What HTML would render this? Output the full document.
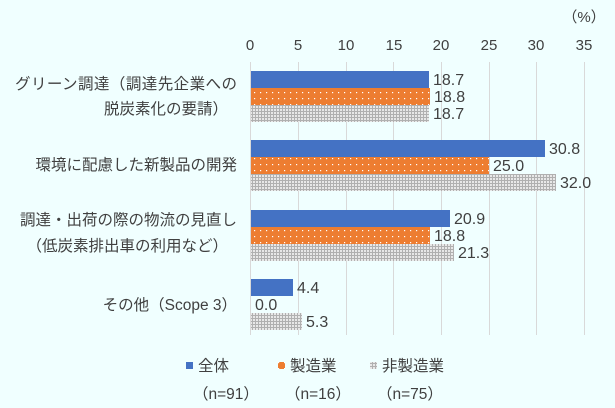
<html><head><style>body{margin:0;background:#f0ffff}</style></head><body>
<svg width="615" height="408" xmlns="http://www.w3.org/2000/svg" font-family="Liberation Sans, Noto Sans CJK JP, sans-serif">
<defs>
<pattern id="dot" width="6" height="6" patternUnits="userSpaceOnUse"><rect width="6" height="6" fill="#ed7d31"/><rect x="2" y="2" width="1.2" height="1.2" fill="#fff"/></pattern>
<pattern id="grid" width="3" height="3" patternUnits="userSpaceOnUse"><rect width="3" height="3" fill="#b0b0b0"/><rect x="1" y="1" width="2" height="2" fill="#e8e8e8"/></pattern>
</defs>
<rect width="615" height="408" fill="#f0ffff"/>
<g stroke="#d9d9d9" stroke-width="1">
<line x1="250.5" y1="62" x2="250.5" y2="335"/><line x1="298.5" y1="62" x2="298.5" y2="335"/><line x1="346.5" y1="62" x2="346.5" y2="335"/><line x1="393.5" y1="62" x2="393.5" y2="335"/><line x1="441.5" y1="62" x2="441.5" y2="335"/><line x1="489.5" y1="62" x2="489.5" y2="335"/><line x1="536.5" y1="62" x2="536.5" y2="335"/><line x1="584.5" y1="62" x2="584.5" y2="335"/>
</g>
<g font-size="15" fill="#404040" text-anchor="middle">
<text x="250" y="50">0</text><text x="298" y="50">5</text><text x="346" y="50">10</text><text x="394" y="50">15</text><text x="441" y="50">20</text><text x="489" y="50">25</text><text x="536" y="50">30</text><text x="584" y="50">35</text>
<text x="584" y="22">（%）</text>
</g>
<g>
<rect x="251" y="71" width="178" height="17" fill="#4472c4"/><rect x="251" y="88" width="179" height="17" fill="url(#dot)"/><rect x="251" y="105" width="178" height="17" fill="url(#grid)"/>
<rect x="251" y="140" width="294" height="17" fill="#4472c4"/><rect x="251" y="157" width="238" height="17" fill="url(#dot)"/><rect x="251" y="174" width="305" height="17" fill="url(#grid)"/>
<rect x="251" y="210" width="199" height="17" fill="#4472c4"/><rect x="251" y="227" width="179" height="17" fill="url(#dot)"/><rect x="251" y="244" width="203" height="17" fill="url(#grid)"/>
<rect x="251" y="279" width="42" height="17" fill="#4472c4"/><rect x="251" y="313" width="51" height="17" fill="url(#grid)"/>
</g>
<g font-size="16" fill="#404040">
<text x="433" y="85">18.7</text><text x="434" y="102">18.8</text><text x="433" y="119">18.7</text>
<text x="549" y="154">30.8</text><text x="493" y="171">25.0</text><text x="560" y="188">32.0</text>
<text x="454" y="224">20.9</text><text x="434" y="241">18.8</text><text x="458" y="258">21.3</text>
<text x="297" y="293">4.4</text><text x="255" y="310">0.0</text><text x="306" y="327">5.3</text>
</g>
<g font-size="15.5" fill="#404040" text-anchor="end">
<text x="237" y="89" textLength="222">グリーン調達（調達先企業への</text>
<text x="228" y="114">脱炭素化の要請）</text>
<text x="237" y="170">環境に配慮した新製品の開発</text>
<text x="237" y="225">調達・出荷の際の物流の見直し</text>
<text x="228" y="251">（低炭素排出車の利用など）</text>
<text x="237" y="310">その他（Scope 3）</text>
</g>
<g font-size="15.5" fill="#404040">
<rect x="186" y="362" width="7" height="7" fill="#4472c4"/><text x="198" y="371">全体</text>
<rect x="278" y="362" width="7" height="7" fill="url(#dot)"/><text x="290" y="371">製造業</text>
<rect x="370" y="362" width="7" height="7" fill="url(#grid)"/><text x="382" y="371">非製造業</text>
<text x="193" y="399">（n=91）</text><text x="285" y="399">（n=16）</text><text x="377" y="399">（n=75）</text>
</g>
</svg>
</body></html>
